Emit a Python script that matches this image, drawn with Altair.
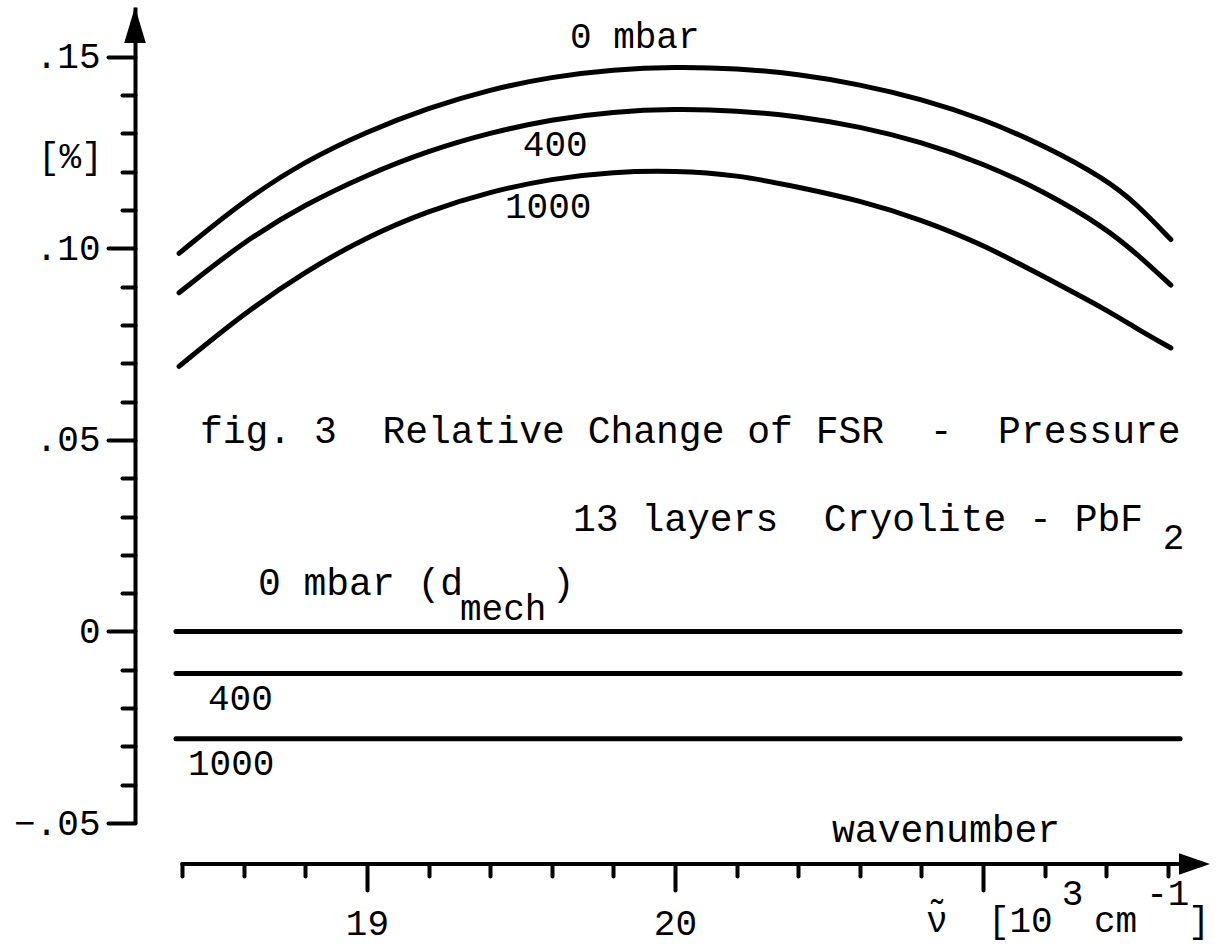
import altair as alt
import pandas as pd

# ---- data ----
wavenumber = [18.39, 18.6, 18.8, 19.0, 19.2, 19.4, 19.6, 19.8, 20.0, 20.2,
              20.4, 20.6, 20.8, 21.0, 21.2, 21.4, 21.5, 21.61]
fsr_0mbar = [0.0987, 0.1125, 0.1228, 0.1305, 0.1367, 0.1415, 0.1448, 0.1467, 0.1474, 0.1470,
             0.1455, 0.1428, 0.1390, 0.1338, 0.1268, 0.1180, 0.1115, 0.1023]
fsr_400 = [0.0884, 0.1018, 0.1115, 0.1192, 0.1255, 0.1302, 0.1337, 0.1357, 0.1364, 0.1360,
           0.1345, 0.1318, 0.1278, 0.1222, 0.1148, 0.1052, 0.0985, 0.0904]
fsr_1000 = [0.0692, 0.0830, 0.0940, 0.1030, 0.1098, 0.1148, 0.1182, 0.1200, 0.1203, 0.1192,
            0.1160, 0.1125, 0.1075, 0.1010, 0.0925, 0.0840, 0.0790, 0.0740]

mech_x = [18.38, 21.64]
mech_levels = {"0": 0.0, "400": -0.011, "1000": -0.028}

x_ticks = [18.4, 18.6, 18.8, 19.0, 19.2, 19.4, 19.6, 19.8, 20.0, 20.2, 20.4,
           20.6, 20.8, 21.0, 21.2, 21.4, 21.6]
x_labeled = [19, 20]
y_ticks = [-0.05, -0.04, -0.03, -0.02, -0.01, 0.0, 0.01, 0.02, 0.03, 0.04, 0.05,
           0.06, 0.07, 0.08, 0.09, 0.10, 0.11, 0.12, 0.13, 0.14, 0.15]

# curve / level labels (numbers and short units)
num_text = ["0 mbar", "400", "1000", "[%]", "400", "1000",
            "\u03bd\u0303", "[10", "3", "cm", "-1", "]", "mech", "2"]
num_x = [19.659, 19.506, 19.448, 17.932, 18.484, 18.419,
         20.815, 21.016, 21.256, 21.360, 21.530, 21.666, 19.302, 21.584]
num_y = [0.1523, 0.1241, 0.1079, 0.1210, -0.0205, -0.0375,
         -0.0785, -0.0785, -0.0714, -0.0785, -0.0714, -0.0785, 0.0030, 0.0215]

# caption-like text
cap_text = ["fig. 3\u00a0 Relative Change of FSR\u00a0 -\u00a0 Pressure",
            "13 layers\u00a0 Cryolite - PbF",
            "0 mbar (d", ")", "wavenumber"]
cap_x = [18.458, 19.669, 18.646, 19.600, 20.510]
cap_y = [0.0492, 0.0262, 0.0095, 0.0095, -0.0550]

X_DOMAIN = [18.247, 21.737]
Y_DOMAIN = [-0.05, 0.163]
W, H = 1075, 816
FONT = "Liberation Mono"

curves = pd.DataFrame({
    "x": wavenumber * 3,
    "y": fsr_0mbar + fsr_400 + fsr_1000,
    "series": ["0"] * len(wavenumber) + ["400"] * len(wavenumber) + ["1000"] * len(wavenumber),
})
flat = pd.DataFrame([
    {"x": xv, "y": lv, "series": k} for k, lv in mech_levels.items() for xv in mech_x
])
num_labels = pd.DataFrame({"text": num_text, "x": num_x, "y": num_y})
cap_labels = pd.DataFrame({"text": cap_text, "x": cap_x, "y": cap_y})

xs = alt.Scale(domain=X_DOMAIN, nice=False, zero=False)
ys = alt.Scale(domain=Y_DOMAIN, nice=False, zero=False)

x_axis = alt.Axis(
    values=x_ticks, offset=41, domain=False, grid=False, title=None,
    tickColor="black", tickWidth=4, tickCap="round",
    tickSize={"condition": {"test": "abs(datum.value - round(datum.value)) < 0.001", "value": 26}, "value": 12},
    labelExpr="indexof(%s, datum.value) >= 0 ? format(datum.value, '.0f') : ''" % str(x_labeled),
    labelFont=FONT, labelFontSize=36, labelColor="black", labelPadding=16,
    labelOverlap=False, labelFlush=False,
)
y_axis = alt.Axis(
    values=y_ticks, domain=True, domainColor="black", domainWidth=4, grid=False, title=None,
    tickColor="black", tickWidth=4, tickCap="round",
    tickSize={"condition": {"test": "abs(datum.value * 20 - round(datum.value * 20)) < 0.01", "value": 27}, "value": 13},
    labelExpr="abs(datum.value * 20 - round(datum.value * 20)) < 0.01 ? (datum.value == 0 ? '0' : replace(format(datum.value, '.2f'), '0.', '.')) : ''",
    labelFont=FONT, labelFontSize=36, labelColor="black", labelPadding=8,
    labelOverlap=False, labelFlush=False,
)

curve_layer = alt.Chart(curves).mark_line(
    color="black", strokeWidth=5, strokeCap="round", interpolate="basis"
).encode(
    x=alt.X("x:Q", scale=xs, axis=x_axis),
    y=alt.Y("y:Q", scale=ys, axis=y_axis),
    detail="series:N",
)

flat_layer = alt.Chart(flat).mark_line(color="black", strokeWidth=5, strokeCap="round").encode(
    x=alt.X("x:Q", scale=xs),
    y=alt.Y("y:Q", scale=ys),
    detail="series:N",
)

num_layer = alt.Chart(num_labels).mark_text(
    font=FONT, fontSize=36, align="left", baseline="alphabetic", color="black"
).encode(
    x=alt.X("x:Q", scale=xs),
    y=alt.Y("y:Q", scale=ys),
    text="text:N",
)
cap_layer = alt.Chart(cap_labels).mark_text(
    font=FONT, fontSize=38, align="left", baseline="alphabetic", color="black"
).encode(
    x=alt.X("x:Q", scale=xs),
    y=alt.Y("y:Q", scale=ys),
    text="text:N",
)

# axis decorations: x axis line and arrow heads
xline = alt.Chart(pd.DataFrame({"x": [x_ticks[0]], "x2": [21.70]})).mark_rule(
    color="black", strokeWidth=4, strokeCap="round"
).encode(
    x=alt.X("x:Q", scale=xs), x2="x2:Q", y=alt.value(H + 41)
)
y_arrow = alt.Chart(pd.DataFrame({"a": [0]})).mark_point(
    shape="M0,0 L0.6,2 L-0.6,2 Z", filled=True, color="black", opacity=1, size=1296, strokeWidth=0
).encode(x=alt.value(0), y=alt.value(0))
x_arrow = alt.Chart(pd.DataFrame({"a": [0]})).mark_point(
    shape="M0,0 L-2,-0.7 L-2,0.7 Z", filled=True, color="black", opacity=1, size=961, strokeWidth=0
).encode(x=alt.value(W), y=alt.value(H + 41))

chart = alt.layer(curve_layer, flat_layer, num_layer, cap_layer, xline, y_arrow, x_arrow).properties(
    width=W, height=H,
    autosize=alt.AutoSizeParams(type="none"),
    padding={"left": 135, "top": 7, "right": 11, "bottom": 126},
    background="white",
).configure_view(stroke=None)

chart.save("out.html", embed_options={"renderer": "svg", "actions": False})
